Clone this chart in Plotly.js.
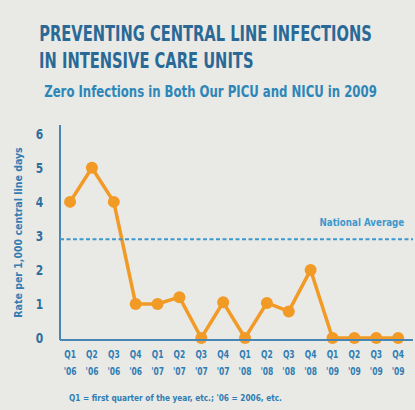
<!DOCTYPE html>
<html><head><meta charset="utf-8">
<script src="https://cdn.plot.ly/plotly-3.0.1.min.js"></script>
<style>html,body{margin:0;padding:0;background:#e9e9e6;}#chart{width:415px;height:410px;}</style>
</head><body><div id="chart"></div>
<script>
const quarterLabels = ["Q1","Q2","Q3","Q4","Q1","Q2","Q3","Q4","Q1","Q2","Q3","Q4","Q1","Q2","Q3","Q4"];
const yearLabels = ["'06","'06","'06","'06","'07","'07","'07","'07","'08","'08","'08","'08","'09","'09","'09","'09"];
const rates = [4, 5, 4, 1, 1, 1.2, 0, 1.05, 0, 1.03, 0.78, 2, 0, 0, 0, 0];
const nationalAverage = 2.9;
const yTicks = [0,1,2,3,4,5,6];
const idx = rates.map((_, i) => i);

const F = "'DejaVu Sans Condensed', 'DejaVu Sans', sans-serif";
const BLUE = '#2f7db3';
const data = [
  {x: idx, y: rates, type: 'scatter', mode: 'lines+markers',
   line: {color: '#f29a26', width: 3.5}, marker: {color: '#f29a26', size: 12},
   cliponaxis: false, hoverinfo: 'skip'},
  {x: idx, y: rates, xaxis: 'x2', type: 'scatter', mode: 'markers',
   marker: {opacity: 0}, hoverinfo: 'skip'}
];
const xCommon = {type: 'linear', range: [-0.46, 15.68], showgrid: false, zeroline: false,
  showline: false, ticks: '', tickvals: idx, tickangle: 0, fixedrange: true,
  tickfont: {family: F, size: 10.5, color: BLUE, weight: 'bold'}};
const layout = {
  width: 415, height: 410,
  paper_bgcolor: '#e9e9e6', plot_bgcolor: '#e9e9e6',
  margin: {l: 60, r: 2, t: 125, b: 70},
  showlegend: false,
  xaxis: Object.assign({}, xCommon, {ticktext: quarterLabels, ticklabelstandoff: 7}),
  xaxis2: Object.assign({}, xCommon, {ticktext: yearLabels, overlaying: 'x', side: 'bottom', anchor: 'y', ticklabelstandoff: 24}),
  yaxis: {range: [-0.06, 6.26], tickvals: yTicks, ticktext: yTicks.map(String), showgrid: false, zeroline: false,
    showline: false, ticks: '', ticklabelstandoff: 15,
    tickfont: {family: F, size: 14.5, color: '#2e6f9e', weight: 'bold'},
    title: {text: 'Rate per 1,000 central line days', font: {family: F, size: 10.5, color: BLUE, weight: 'bold'}, standoff: 10}},
  shapes: [
    {type: 'line', xref: 'paper', yref: 'paper', x0: 0, x1: 0, y0: 0, y1: 1, line: {color: '#4a86b4', width: 2}},
    {type: 'line', xref: 'paper', yref: 'paper', x0: 0, x1: 1, y0: 0, y1: 0, line: {color: '#4a86b4', width: 2}},
    {type: 'line', xref: 'paper', yref: 'y', x0: 0, x1: 1, y0: nationalAverage, y1: nationalAverage, line: {color: '#3d98cc', width: 2, dash: '4px,2.5px'}}
  ],
  annotations: [
    {text: 'PREVENTING CENTRAL LINE INFECTIONS', xref: 'paper', yref: 'paper', x: -0.065, y: 1.425, xanchor: 'left', yanchor: 'middle', showarrow: false,
      font: {family: F, size: 21, color: '#2a6996', weight: 'bold'}},
    {text: 'IN INTENSIVE CARE UNITS', xref: 'paper', yref: 'paper', x: -0.065, y: 1.298, xanchor: 'left', yanchor: 'middle', showarrow: false,
      font: {family: F, size: 21, color: '#2a6996', weight: 'bold'}},
    {text: 'Zero Infections in Both Our PICU and NICU in 2009', xref: 'paper', yref: 'paper', x: -0.051, y: 1.152, xanchor: 'left', yanchor: 'middle', showarrow: false,
      font: {family: F, size: 15, color: '#2e86b8', weight: 'bold'}},
    {text: 'National Average', xref: 'paper', yref: 'y', x: 0.983, y: nationalAverage, xanchor: 'right', yanchor: 'middle', yshift: 17, showarrow: false,
      font: {family: F, size: 11, color: '#3d98cc', weight: 'bold'}},
    {text: "Q1 = first quarter of the year, etc.; '06 = 2006, etc.", xref: 'paper', yref: 'paper', x: 0.02, y: -0.27, xanchor: 'left', yanchor: 'middle', showarrow: false,
      font: {family: F, size: 9, color: BLUE, weight: 'bold'}}
  ]
};
// target rendered widths (px) and scaling anchor for each annotation, to mimic the condensed typeface
const fit = [[333, 'left'], [null, 'left'], [333, 'left'], [85, 'right'], [213, 'left']];
function squeeze(el, s, ax) {
  const prev = el.getAttribute('transform') || '';
  el.setAttribute('transform', `${prev} translate(${ax},0) scale(${s},1) translate(${-ax},0)`);
}
Plotly.newPlot('chart', data, layout, {staticPlot: true, displayModeBar: false}).then(() => {
  let titleScale = 1;
  document.querySelectorAll('.annotation-text').forEach((el, i) => {
    const f = fit[i]; if (!f) return;
    const bb = el.getBBox();
    const s = f[0] ? f[0] / bb.width : titleScale;
    if (i === 0) titleScale = s;
    squeeze(el, s, f[1] === 'left' ? bb.x : bb.x + bb.width);
  });
  document.querySelectorAll('.xtick text, .x2tick text').forEach(el => {
    const bb = el.getBBox(); squeeze(el, 0.8, bb.x + bb.width / 2);
  });
  document.querySelectorAll('.ytick text').forEach(el => {
    const bb = el.getBBox(); squeeze(el, 0.82, bb.x + bb.width / 2);
  });
});
</script></body></html>
